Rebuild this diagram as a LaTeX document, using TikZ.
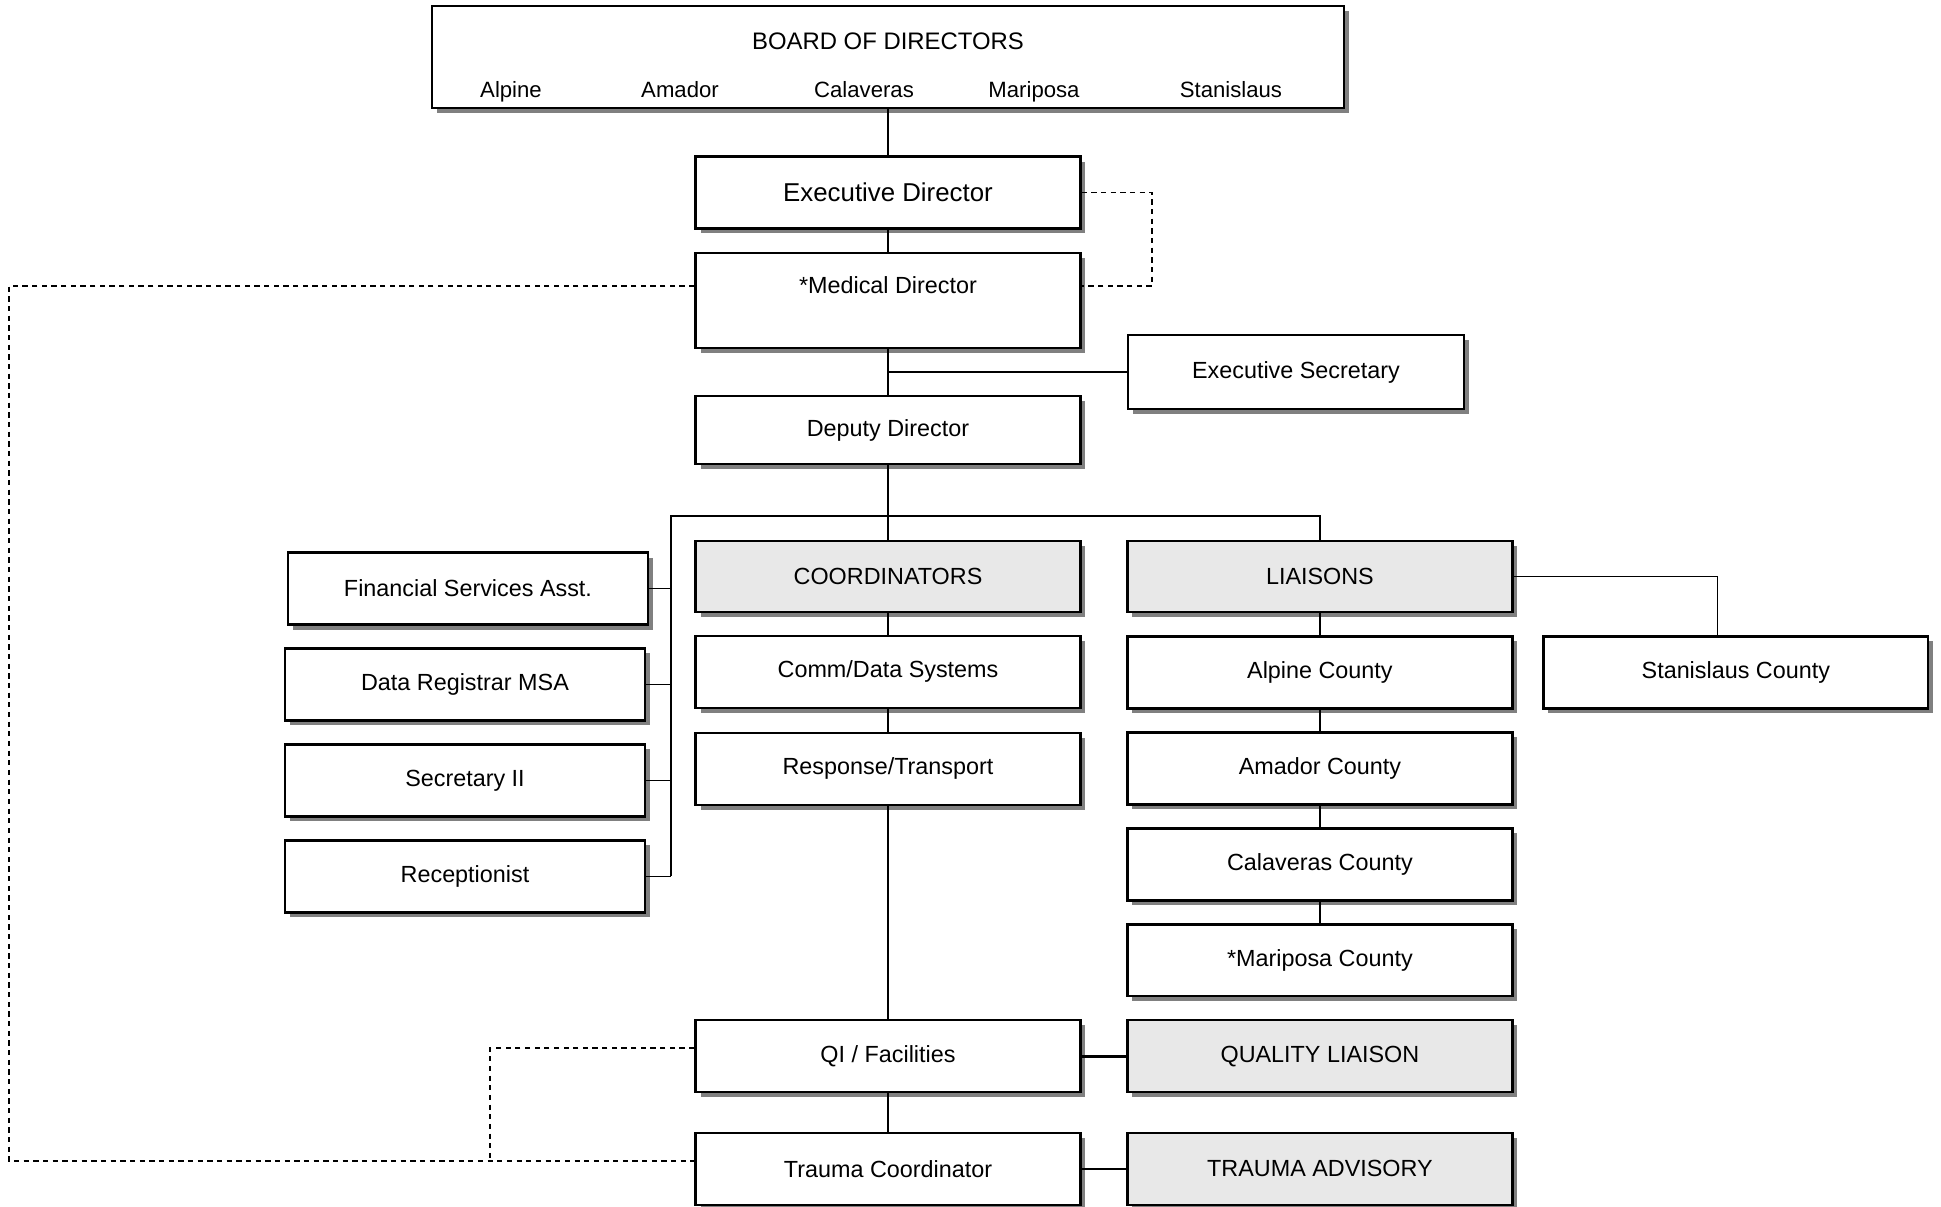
\documentclass[tikz,border=0pt]{standalone}
\usepackage{fontspec}
\setmainfont{Liberation Sans}
\usepackage{tikz}
\usetikzlibrary{shadows}
\definecolor{unitgray}{RGB}{232,232,232}
\definecolor{shadowgray}{RGB}{128,128,128}

\begin{document}
\begin{tikzpicture}[x=0.02cm,y=-0.02cm
        ,box/.style = {draw=black,line width=1.3pt,rectangle,fill=white,minimum width=7.7cm,minimum height=1.44cm,font=\fontsize{13.3}{16}\selectfont,drop shadow={shadow xshift=0.1cm,shadow yshift=-0.1cm,fill=shadowgray,opacity=1}}
        ,unit/.style = {box,fill=unitgray}
        ,staff/.style = {box,minimum width=7.2cm}
        ,county/.style = {anchor=base,font=\fontsize{12.6}{15}\selectfont}
        ,link/.style = {draw=black,line width=0.75pt}
        ,dotlink/.style = {link,dash pattern=on 3pt off 2.5pt}
      ]

      \useasboundingbox (0,0) rectangle (1941,1207);

      \node[box,minimum width=18.24cm,minimum height=2.04cm](board) at (888,57) {};
      \node[font=\fontsize{13.6}{16}\selectfont](boardtitle) at (888,41) {BOARD OF DIRECTORS};
      \node[county](balpine) at (511,97) {Alpine};
      \node[county](bamador) at (680,97) {Amador};
      \node[county](bcalaveras) at (864,97) {Calaveras};
      \node[county](bmariposa) at (1034,97) {Mariposa};
      \node[county](bstanislaus) at (1231,97) {Stanislaus};

      \node[box,font=\fontsize{14.7}{17}\selectfont](execdir) at (888,192.5) {Executive Director};
      \node[box,minimum height=1.9cm,align=center,node distance=2.16cm](meddir) [below of=execdir] {*Medical Director\\[2pt]~};
      \node[box,minimum width=6.72cm,minimum height=1.48cm](execsec) at (1296,372) {Executive Secretary};
      \node[box,minimum height=1.36cm,node distance=2.59cm](deputy) [below of=meddir] {Deputy Director};
      \node[unit,minimum height=1.42cm,node distance=2.93cm](coord) [below of=deputy] {COORDINATORS};
      \node[box,node distance=1.91cm](commdata) [below of=coord] {Comm/Data Systems};
      \node[box,node distance=1.94cm](response) [below of=commdata] {Response/Transport};
      \node[box,node distance=5.75cm](qi) [below of=response] {QI / Facilities};
      \node[box,node distance=2.25cm](trauma) [below of=qi] {Trauma Coordinator};

      \node[unit,minimum height=1.42cm,node distance=8.64cm](liaisons) [right of=coord] {LIAISONS};
      \node[box,node distance=1.92cm](alpine) [below of=liaisons] {Alpine County};
      \node[box,node distance=1.92cm](amador) [below of=alpine] {Amador County};
      \node[box,node distance=1.92cm](calaveras) [below of=amador] {Calaveras County};
      \node[box,node distance=1.92cm](mariposa) [below of=calaveras] {*Mariposa County};
      \node[unit,node distance=8.64cm](quality) [right of=qi] {QUALITY LIAISON};
      \node[unit,node distance=8.64cm](traumaadv) [right of=trauma] {TRAUMA ADVISORY};
      \node[box,node distance=8.32cm](stanislaus) [right of=alpine] {Stanislaus County};

      \node[staff](finance) at (468,588.5) {Financial Services Asst.};
      \node[staff,node distance=1.92cm,xshift=-0.06cm](registrar) [below of=finance] {Data Registrar MSA};
      \node[staff,node distance=1.92cm](secretary) [below of=registrar] {Secretary II};
      \node[staff,node distance=1.92cm](reception) [below of=secretary] {Receptionist};

      \coordinate (busl) at (671,516);
      \coordinate (dashr) at (1152,286);
      \coordinate (dashl) at (9,1161);
      \coordinate (dashq) at (490,1048);

      \draw[link] (board.south) -- (execdir.north);
      \draw[link] (execdir) -- (meddir);
      \draw[link] (meddir) -- (deputy);
      \draw[link] (execsec.west) -- (execsec.west -| meddir.south);
      \draw[link] (deputy) -- (coord);
      \draw[link] (busl |- reception.east) -- (busl) -| (liaisons.north);
      \draw[link] (finance.east) -- (finance.east -| busl);
      \draw[link] (registrar.east) -- (registrar.east -| busl);
      \draw[link] (secretary.east) -- (secretary.east -| busl);
      \draw[link] (reception.east) -- (reception.east -| busl);
      \draw[link] (coord) -- (commdata);
      \draw[link] (commdata) -- (response);
      \draw[link] (response) -- (qi);
      \draw[link] (qi) -- (trauma);
      \draw[link] (liaisons) -- (alpine);
      \draw[link] (alpine) -- (amador);
      \draw[link] (amador) -- (calaveras);
      \draw[link] (calaveras) -- (mariposa);
      \draw[link] (liaisons.east) -| ([xshift=-0.37cm]stanislaus.north);
      \draw[link,line width=1.4pt] (qi) -- (quality);
      \draw[link,line width=1.4pt] (trauma) -- (traumaadv);

      \draw[dotlink] (execdir.east) -| (dashr) -- (dashr -| meddir.east);
      \draw[dotlink] (meddir.west |- dashr) -| (dashl) -- (dashl -| trauma.west);
      \draw[dotlink] (qi.west |- dashq) -- (dashq) -- (dashq |- dashl);
    \end{tikzpicture}
\end{document}
